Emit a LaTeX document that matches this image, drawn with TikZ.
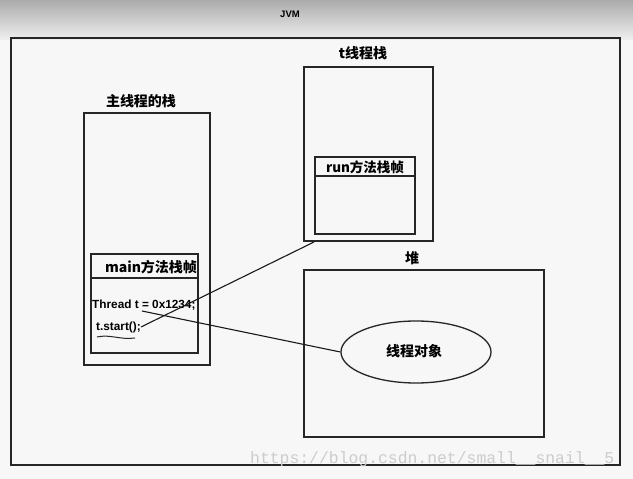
\documentclass[tikz,border=0pt]{standalone}
\usepackage{fontspec}
\setmainfont{Liberation Sans}
\newfontfamily\cjk{Noto Sans CJK SC}
\newfontfamily\wmfont{Liberation Mono}
\usetikzlibrary{shapes.geometric}
\begin{document}
\begin{tikzpicture}[x=1pt,y=-1pt,
  box/.style={draw=black!85,line width=1.3pt},
  lbl/.style={font=\cjk\bfseries\fontsize{14}{16}\selectfont,inner sep=0pt},
  frm/.style={font=\cjk\bfseries\fontsize{13.5}{15}\selectfont,inner sep=0pt},
  code/.style={font=\bfseries\fontsize{11.8}{13}\selectfont,inner sep=0pt,anchor=west},
  conn/.style={draw=black!90,line width=1.1pt}]
\useasboundingbox (0,0) rectangle (633,479);
\shade[top color=black!33,bottom color=black!6] (0,0) rectangle (633,40);
\fill[black!3] (0,40) rectangle (633,479);
\node[font=\bfseries\fontsize{9.5}{11}\selectfont,inner sep=0pt] (jvm) at (290,14) {JVM};
\draw[box] (11,38) rectangle (620,465);
% main thread stack
\node[lbl] (mainlbl) at (141,101) {主线程的栈};
\draw[box] (84,113) rectangle (210,365);
\draw[box] (91,254) rectangle (198,353);
\draw[box] (91,278) -- (198,278);
\node[frm,font=\cjk\bfseries\fontsize{14}{16}\selectfont] (mainframe) at (151,267) {main方法栈帧};
\node[code] (tdecl) at (92,305) {Thread t = 0x1234;};
\node[code] (tstart) at (96,327) {t.start();};
\coordinate (wavyA) at (97,337);
\coordinate (wavyB) at (135,338);
\draw[black!85,line width=1pt] (wavyA) .. controls (110,334) and (120,340) .. (wavyB);
% thread stack
\node[lbl] (tlbl) at (363,53) {t线程栈};
\draw[box] (304,67) rectangle (433,241);
\draw[box] (315,157) rectangle (415,234);
\draw[box] (315,176) -- (415,176);
\node[frm] (runframe) at (365,167) {run方法栈帧};
\coordinate (tsc) at (314,242);
% heap
\node[lbl] (heaplbl) at (412,258) {堆};
\draw[box] (304,270) rectangle (544,437);
\node[ellipse,draw=black!85,line width=1.3pt,minimum width=150pt,minimum height=62pt] (obj) at (416,352) {};
\node[lbl] (objlbl) at (414,351) {线程对象};
% connectors
\coordinate (tsEnd) at (141,327);
\coordinate (tdEnd) at (142,311);
\draw[conn] (tsEnd) -- (tsc);
\draw[conn] (tdEnd) -- (obj.west);
% watermark
\node[font=\wmfont\fontsize{16.4}{18}\selectfont,text=black!20,inner sep=0pt,anchor=west] (wm) at (250,459) {https://blog.csdn.net/small\_\_snail\_\_5};
\end{tikzpicture}
\end{document}
